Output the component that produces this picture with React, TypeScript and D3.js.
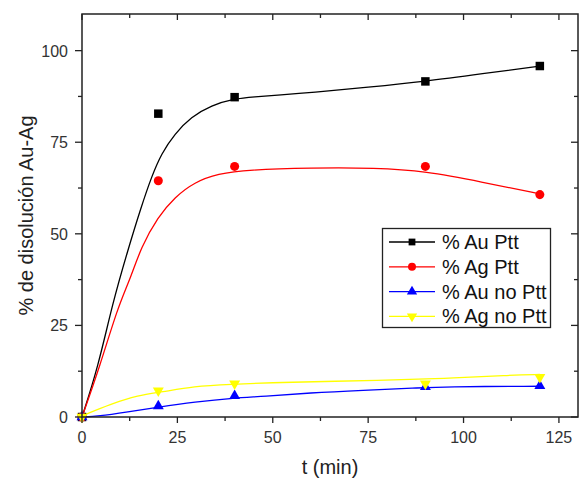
import React from "react";
import * as d3 from "d3";

const times = [0, 20, 40, 90, 120];
const auPtt = [0, 82.8, 87.3, 91.6, 95.8];
const agPtt = [0, 64.5, 68.4, 68.4, 60.7];
const auNoPtt = [0, 3.0, 5.8, 8.2, 8.5];
const agNoPtt = [0, 7.2, 9.1, 9.1, 10.9];

// fitted curves
const auFitT = [0, 4.2, 8, 12, 15.5, 18.2, 20.8, 24.3, 28.6, 33.9, 40, 45, 52, 60, 75, 90, 105, 120];
const auFitV = [0, 13.6, 31, 45.5, 57.3, 65.5, 71.9, 77.3, 81.9, 85.1, 86.9, 87.4, 87.9, 88.5, 90.0, 91.6, 93.7, 95.8];
const agFitT = [0, 4.6, 9.4, 12.5, 15.5, 19.9, 24.3, 29.5, 35.6, 43.5, 60, 77, 90, 105, 120];
const agFitV = [0, 13.6, 30, 37.3, 46.4, 54.6, 60, 64.1, 66.4, 67.5, 68.0, 68.0, 67.1, 64.1, 60.9];
const auNoFitT = [0, 4.2, 12, 19.9, 29.5, 40, 47.5, 59.7, 73.7, 87.7, 94.6, 120];
const auNoFitV = [0, 0.2, 1.4, 2.7, 4.1, 5.2, 5.6, 6.6, 7.3, 7.9, 8.3, 8.4];
const agNoFitT = [0, 7.7, 14.7, 20.8, 29.5, 38.2, 53.6, 78.9, 94.6, 112, 120];
const agNoFitV = [0.3, 3.6, 5.9, 6.8, 8.4, 8.9, 9.5, 10.0, 10.5, 11.4, 11.6];

const xTicks = [0, 25, 50, 75, 100, 125];
const yTicks = [0, 25, 50, 75, 100];
const seriesNames = ["% Au Ptt", "% Ag Ptt", "% Au no Ptt", "% Ag no Ptt"];
const colors = ["#000000", "#ff0000", "#0000ff", "#ffff00"];

const W = 579, H = 478;
const L = 82, R = 578, T = 14, B = 417;
const FONT = "'Liberation Sans', Arial, sans-serif";

export default function App() {
  const x = d3.scaleLinear().domain([0, 130]).range([L, R]);
  const y = d3.scaleLinear().domain([0, 110]).range([B, T]);
  const line = d3
    .line<[number, number]>()
    .x((d) => x(d[0]))
    .y((d) => y(d[1]))
    .curve(d3.curveBasis);

  const fits = [
    [auFitT, auFitV],
    [agFitT, agFitV],
    [auNoFitT, auNoFitV],
    [agNoFitT, agNoFitV],
  ];
  const pts = [auPtt, agPtt, auNoPtt, agNoPtt];

  const sym = [
    d3.symbol(d3.symbolSquare, 72)(),
    d3.symbol(d3.symbolCircle, 64)(),
    d3.symbol(d3.symbolTriangle, 52)(),
    d3.symbol(d3.symbolTriangle, 52)(),
  ];
  const legSym = [
    d3.symbol(d3.symbolSquare, 46)(),
    d3.symbol(d3.symbolCircle, 50)(),
    d3.symbol(d3.symbolTriangle, 46)(),
    d3.symbol(d3.symbolTriangle, 46)(),
  ];
  const rot = (i: number) => (i === 3 ? " rotate(180)" : "");

  const xMinor = d3.range(0, 131, 12.5);
  const yMinor = d3.range(0, 111, 12.5);
  const axisColor = "#222";

  return (
    <svg
      width={W}
      height={H}
      style={{ position: "absolute", left: 0, top: 0, background: "#fff" }}
      fontFamily={FONT}
    >
      <rect x={0} y={0} width={W} height={H} fill="#fff" />
      {fits.map(([tt, vv], i) => (
        <path
          key={"f" + i}
          d={line(tt.map((t, k) => [t, vv[k]] as [number, number])) || ""}
          fill="none"
          stroke={colors[i]}
          strokeWidth={1.3}
        />
      ))}
      {pts.map((vals, i) =>
        vals.map((v, k) => (
          <path
            key={"m" + i + "-" + k}
            d={sym[i] || ""}
            transform={`translate(${x(times[k])},${y(v)})${rot(i)}`}
            fill={colors[i]}
          />
        ))
      )}
      <rect x={L} y={T} width={R - L} height={B - T} fill="none" stroke={axisColor} strokeWidth={1.5} />
      {xMinor.map((t) => {
        const major = t % 25 === 0;
        const len = major ? 6 : 4;
        return (
          <g key={"xt" + t}>
            <line x1={x(t)} x2={x(t)} y1={B} y2={B + len} stroke={axisColor} strokeWidth={1.3} />
            <line x1={x(t)} x2={x(t)} y1={T} y2={T + len} stroke={axisColor} strokeWidth={1.3} />
          </g>
        );
      })}
      {xTicks.map((t) => (
        <text key={"xl" + t} x={x(t)} y={443} textAnchor="middle" fontSize={16} fill="#333">
          {t}
        </text>
      ))}
      {yMinor.map((v) => {
        const major = v % 25 === 0;
        const len = major ? 7 : 4;
        return (
          <g key={"yt" + v}>
            <line x1={L - len} x2={L} y1={y(v)} y2={y(v)} stroke={axisColor} strokeWidth={1.3} />
            <line x1={R - len} x2={R} y1={y(v)} y2={y(v)} stroke={axisColor} strokeWidth={1.3} />
          </g>
        );
      })}
      {yTicks.map((v) => (
        <text key={"yl" + v} x={68} y={y(v) + 6} textAnchor="end" fontSize={16} fill="#333">
          {v}
        </text>
      ))}
      <text x={(L + R) / 2} y={474} textAnchor="middle" fontSize={20} fill="#222">
        t (min)
      </text>
      <text
        transform={`translate(33,${(T + B) / 2}) rotate(-90)`}
        textAnchor="middle"
        fontSize={20}
        fill="#222"
      >
        % de disolución Au-Ag
      </text>
      <rect x={382.5} y={228.5} width={168} height={99} fill="#fff" stroke="#222" strokeWidth={1.3} />
      {seriesNames.map((name, i) => {
        const cy = 242 + i * 24.8;
        return (
          <g key={"lg" + i}>
            <line x1={389} x2={435} y1={cy} y2={cy} stroke={colors[i]} strokeWidth={1.3} />
            <path d={legSym[i] || ""} transform={`translate(412,${cy})${rot(i)}`} fill={colors[i]} />
            <text x={442} y={cy + 7} fontSize={20} fill="#111">
              {name}
            </text>
          </g>
        );
      })}
    </svg>
  );
}
